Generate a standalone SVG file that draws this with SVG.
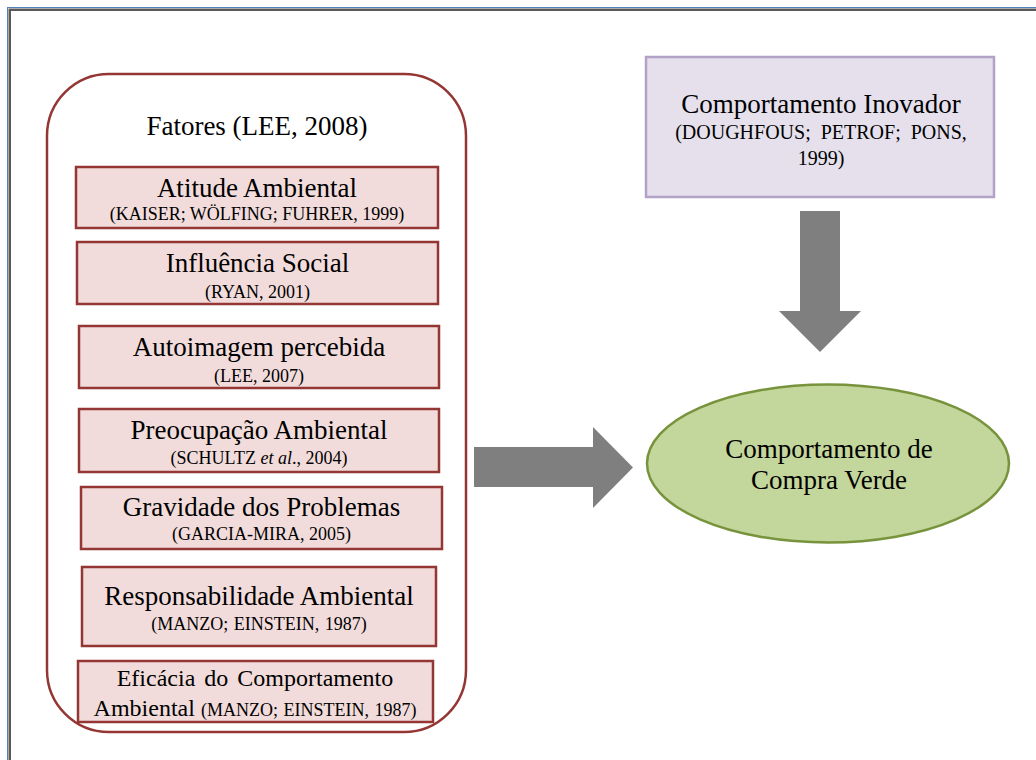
<svg xmlns="http://www.w3.org/2000/svg" width="1036" height="760" viewBox="0 0 1036 760">
<style>
  text { font-family: "Liberation Serif", "Times New Roman", serif; fill: #000; text-anchor: middle; }
  .t { font-size: 27px; }
  .t24 { font-size: 24px; }
  .c { font-size: 18px; }
  .c20 { font-size: 20px; }
  .factor { fill: #F2DCDB; stroke: #943634; stroke-width: 2.5; }
  .arrow { fill: #7F7F7F; stroke: none; }
</style>
<rect x="0" y="0" width="1036" height="760" fill="#FFFFFF"/>
<!-- outer frame -->
<rect x="7.5" y="7.5" width="1100" height="800" fill="none" stroke="#4F81BD" stroke-width="1"/>
<rect x="9.75" y="9.75" width="1100" height="800" fill="none" stroke="#595959" stroke-width="2.5"/>

<g id="fatores">
  <rect x="47" y="74" width="419" height="658" rx="62" ry="62" fill="#FFFFFF" stroke="#943634" stroke-width="2.5"/>
  <text class="t" x="257" y="135">Fatores (LEE, 2008)</text>
</g>

<g id="atitude">
  <rect class="factor" x="76" y="167" width="362" height="61"/>
  <text class="t" x="257" y="197">Atitude Ambiental</text>
  <text class="c" x="257" y="220">(KAISER; WÖLFING; FUHRER, 1999)</text>
</g>
<g id="influencia">
  <rect class="factor" x="77" y="242" width="361" height="62"/>
  <text class="t" x="257.5" y="272">Influência Social</text>
  <text class="c" x="257.5" y="297.5">(RYAN, 2001)</text>
</g>
<g id="autoimagem">
  <rect class="factor" x="79" y="326" width="360" height="62"/>
  <text class="t" x="259" y="356">Autoimagem percebida</text>
  <text class="c" x="259" y="381.5">(LEE, 2007)</text>
</g>
<g id="preocupacao">
  <rect class="factor" x="79" y="409" width="360" height="63"/>
  <text class="t" x="259" y="439">Preocupação Ambiental</text>
  <text class="c" x="259" y="464">(SCHULTZ <tspan font-style="italic">et al</tspan>., 2004)</text>
</g>
<g id="gravidade">
  <rect class="factor" x="81" y="487" width="361" height="62"/>
  <text class="t" x="261.5" y="516">Gravidade dos Problemas</text>
  <text class="c" x="261.5" y="540">(GARCIA-MIRA, 2005)</text>
</g>
<g id="responsabilidade">
  <rect class="factor" x="82" y="567" width="354" height="79"/>
  <text class="t" x="259" y="605">Responsabilidade Ambiental</text>
  <text class="c" x="259" y="630" word-spacing="1">(MANZO; EINSTEIN, 1987)</text>
</g>
<g id="eficacia">
  <rect class="factor" x="78" y="661" width="355" height="61"/>
  <text class="t24" x="255" y="686" word-spacing="3">Eficácia do Comportamento</text>
  <text x="255" y="715.5"><tspan class="t24">Ambiental </tspan><tspan class="c" word-spacing="1">(MANZO; EINSTEIN, 1987)</tspan></text>
</g>

<g id="inovador">
  <rect x="646" y="57" width="348" height="140" fill="#E5E0EC" stroke="#B3A2C7" stroke-width="2.5"/>
  <text class="t" x="821" y="113">Comportamento Inovador</text>
  <text class="c20" x="821" y="139" word-spacing="5">(DOUGHFOUS; PETROF; PONS,</text>
  <text class="c20" x="821" y="165">1999)</text>
</g>

<g id="compra-verde">
  <ellipse cx="828" cy="463.5" rx="181" ry="79" fill="#C3D69B" stroke="#77933C" stroke-width="2.5"/>
  <text class="t" x="829" y="458">Comportamento de</text>
  <text class="t" x="829" y="489">Compra Verde</text>
</g>

<g id="connectors">
  <polygon class="arrow" points="474,447 593,447 593,427 633,467.5 593,508 593,487 474,487"/>
  <polygon class="arrow" points="800,211 840,211 840,311 861,311 820,352 779,311 800,311"/>
</g>
</svg>
